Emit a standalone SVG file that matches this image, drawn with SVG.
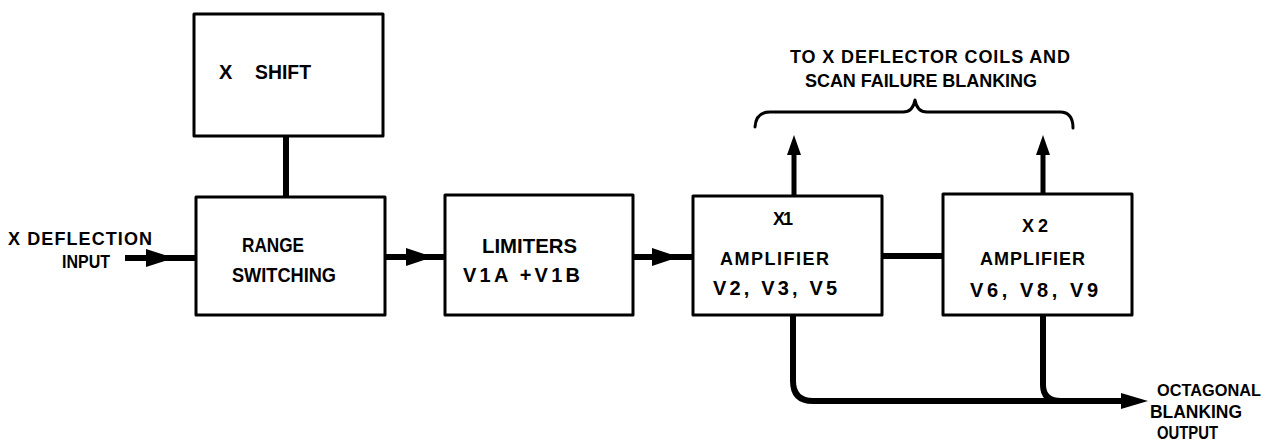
<svg xmlns="http://www.w3.org/2000/svg" width="1276" height="444" viewBox="0 0 1276 444">
<style>
.box{fill:#fff;stroke:#000;stroke-width:3;stroke-linejoin:round}
.wire{fill:none;stroke:#000;stroke-width:6;stroke-linecap:butt;stroke-linejoin:round}
.thin{fill:none;stroke:#000;stroke-width:5}
.brace{fill:none;stroke:#000;stroke-width:3;stroke-linecap:round;stroke-linejoin:round}
.head{fill:#000;stroke:none}
text{font-family:"Liberation Sans",Arial,sans-serif;font-weight:bold;font-size:18px;fill:#000}
.big{font-size:20px}
.mid{font-size:18px}
.out{font-size:18px}
.oct{font-size:17px}
</style>
<rect x="0" y="0" width="1276" height="444" fill="#fff"/>
<g id="connectors">
  <line class="wire" x1="286" y1="136" x2="286" y2="197"/>
  <line class="wire" x1="125" y1="258" x2="196" y2="258"/>
  <polygon class="head" points="146,249 174,258 146,267"/>
  <line class="wire" x1="385" y1="257" x2="445" y2="257"/>
  <polygon class="head" points="406,248 433,257 406,266"/>
  <line class="wire" x1="633" y1="257" x2="693" y2="257"/>
  <polygon class="head" points="652,248 679,257 652,266"/>
  <line class="wire" x1="882" y1="256" x2="943" y2="256"/>
  <line class="thin" x1="794" y1="196" x2="794" y2="150"/>
  <polygon class="head" points="787,155 794,135 801,155"/>
  <line class="thin" x1="1043" y1="194" x2="1043" y2="150"/>
  <polygon class="head" points="1036,155 1043,135 1050,155"/>
  <path class="wire" d="M793,315 V381 Q793,401 813,401 H1125"/>
  <path class="wire" d="M1043,315 V385 Q1043,401 1061,401"/>
  <polygon class="head" points="1121,393 1148,401 1121,409"/>
  <path class="brace" d="M755,127 Q756,112 770,112 H903 Q913,112 915,100 Q917,112 927,112 H1060 Q1073,112 1073,128"/>
</g>
<g id="xshift">
  <rect class="box" x="194" y="14" width="189" height="122"/>
  <text class="big" y="79"><tspan x="219">X</tspan><tspan x="255" textLength="56" lengthAdjust="spacingAndGlyphs">SHIFT</tspan></text>
</g>
<g id="range">
  <rect class="box" x="196" y="197" width="189" height="118"/>
  <text class="big" x="242" y="252" textLength="62" lengthAdjust="spacingAndGlyphs">RANGE</text>
  <text class="big" x="232" y="282" textLength="104" lengthAdjust="spacingAndGlyphs">SWITCHING</text>
</g>
<g id="limiters">
  <rect class="box" x="445" y="195" width="188" height="120"/>
  <text class="big" x="482" y="253" textLength="95" lengthAdjust="spacingAndGlyphs">LIMITERS</text>
  <text class="big" x="463" y="282" textLength="117" lengthAdjust="spacing">V1A +V1B</text>
</g>
<g id="amp1">
  <rect class="box" x="693" y="196" width="189" height="119"/>
  <text class="mid" x="773" y="225" textLength="20" lengthAdjust="spacing">X1</text>
  <text class="mid" x="720" y="265" textLength="109" lengthAdjust="spacing">AMPLIFIER</text>
  <text class="big" x="713" y="295" textLength="124" lengthAdjust="spacing">V2, V3, V5</text>
</g>
<g id="amp2">
  <rect class="box" x="943" y="194" width="189" height="121"/>
  <text class="mid" x="1022" y="232" textLength="26" lengthAdjust="spacing">X2</text>
  <text class="mid" x="980" y="265" textLength="105" lengthAdjust="spacing">AMPLIFIER</text>
  <text class="big" x="970" y="297" textLength="128" lengthAdjust="spacing">V6, V8, V9</text>
</g>
<g id="input-label">
  <text x="8" y="245" textLength="144" lengthAdjust="spacing">X DEFLECTION</text>
  <text x="62" y="268" textLength="48" lengthAdjust="spacingAndGlyphs">INPUT</text>
</g>
<g id="deflector-label">
  <text x="790" y="63" textLength="280" lengthAdjust="spacing">TO X DEFLECTOR COILS AND</text>
  <text x="805" y="87" textLength="232" lengthAdjust="spacing">SCAN FAILURE BLANKING</text>
</g>
<g id="output-label">
  <text class="oct" x="1157" y="396" textLength="104" lengthAdjust="spacingAndGlyphs">OCTAGONAL</text>
  <text class="out" x="1150" y="418" textLength="92" lengthAdjust="spacingAndGlyphs">BLANKING</text>
  <text class="out" x="1157" y="439" textLength="61" lengthAdjust="spacingAndGlyphs">OUTPUT</text>
</g>
</svg>
